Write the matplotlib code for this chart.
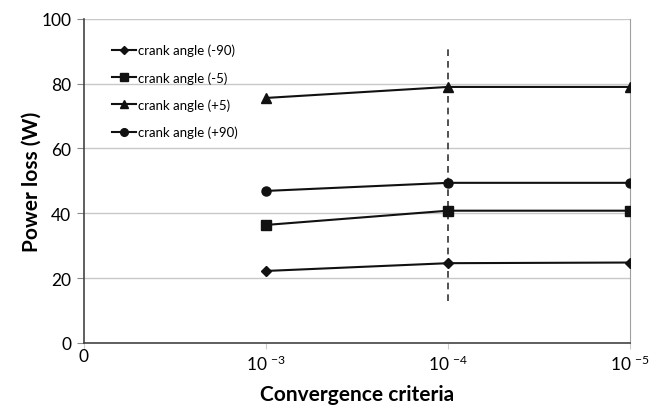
import matplotlib
matplotlib.use("Agg")
import matplotlib.pyplot as plt

plt.rcParams['font.family'] = ['Lato', 'DejaVu Sans']
plt.rcParams['mathtext.fontset'] = 'custom'
plt.rcParams['mathtext.rm'] = 'Lato'
plt.rcParams['mathtext.it'] = 'Lato'

categories = ["10 $^{-3}$", "10 $^{-4}$", "10 $^{-5}$"]
series_names = ["crank angle (-90)", "crank angle (-5)", "crank angle (+5)", "crank angle (+90)"]
v_m90 = [22.2, 24.6, 24.8]
v_m5 = [36.4, 40.8, 40.8]
v_p5 = [75.6, 79.0, 79.0]
v_p90 = [46.9, 49.4, 49.4]
markers = ['D', 's', '^', 'o']
msizes = [5, 6.5, 6.5, 6.5]

fig = plt.figure(figsize=(6.55, 4.06), dpi=100)
ax = fig.add_axes([0.128, 0.153, 0.834, 0.798])

xpos = [1, 2, 3]
for vals, name, m, ms in zip([v_m90, v_m5, v_p5, v_p90], series_names, markers, msizes):
    ax.plot(xpos, vals, color='#111111', lw=1.5, marker=m, ms=ms, label=name, zorder=3)

ax.vlines(2, 13, 92, colors='#333333', linestyles=(0, (4, 3)), lw=1.2, zorder=2)

ax.set_xlim(0, 3)
ax.set_ylim(0, 100)
ax.set_xticks([0, 1, 2, 3])
ax.set_xticklabels(["0"] + categories)
ax.set_yticks([0, 20, 40, 60, 80, 100])
ax.yaxis.grid(True, color='#c8c8c8', lw=1)
ax.set_axisbelow(True)
ax.spines['top'].set_visible(False)
ax.spines['right'].set_color('#a0a0a0')
ax.spines['left'].set_color('#444444')
ax.spines['bottom'].set_color('#444444')
ax.spines['left'].set_linewidth(1.2)
ax.spines['bottom'].set_linewidth(1.2)
ax.tick_params(axis='y', direction='out', length=5, color='#888888', labelsize=12.5, pad=4)
ax.tick_params(axis='x', direction='out', length=4, color='#cccccc', labelsize=12.5, pad=4)
labs = ax.get_xticklabels()
labs[0].set_y(0.02)

ax.set_xlabel("Convergence criteria", fontsize=15, fontweight='bold')
ax.set_ylabel("Power loss (W)", fontsize=15, fontweight='bold')
ax.xaxis.set_label_coords(0.5, -0.128)
ax.yaxis.set_label_coords(-0.078, 0.5)

leg = ax.legend(loc='upper left', bbox_to_anchor=(0.03, 0.96), frameon=False,
                fontsize=9.5, handlelength=1.8, labelspacing=1.12, handletextpad=0.2,
                markerscale=0.85)

fig.savefig("out.png", dpi=100)
